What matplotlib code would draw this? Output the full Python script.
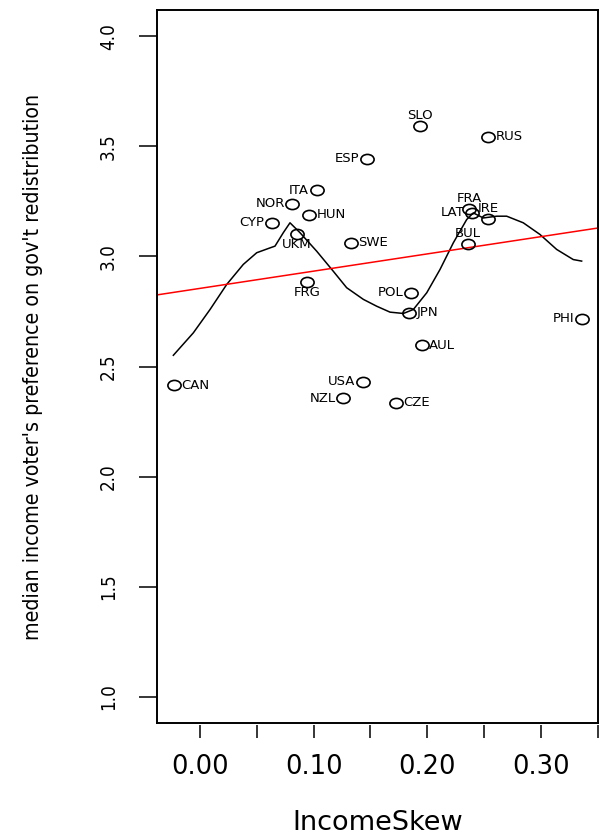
import numpy as np
import matplotlib
matplotlib.use('Agg')
import matplotlib.pyplot as plt
from matplotlib.path import Path
from matplotlib.transforms import Affine2D

# Country codes with income skew and median voter preference for redistribution
countries = ['CAN', 'SLO', 'RUS', 'ESP', 'ITA', 'NOR', 'HUN', 'CYP', 'UKM', 'SWE',
             'FRA', 'LAT', 'IRE', 'BUL', 'FRG', 'POL', 'JPN', 'PHI', 'AUL', 'USA',
             'NZL', 'CZE']
income_skew = [-0.0229, 0.1937, 0.2538, 0.1467, 0.1027, 0.0813, 0.0960, 0.0631, 0.0851, 0.1329,
               0.2371, 0.2397, 0.2538, 0.2356, 0.0945, 0.1857, 0.1843, 0.3360, 0.1951, 0.1438,
               0.1262, 0.1723]
preference = [2.414, 3.595, 3.544, 3.445, 3.301, 3.239, 3.189, 3.153, 3.100, 3.062,
              3.214, 3.198, 3.171, 3.055, 2.883, 2.835, 2.744, 2.718, 2.597, 2.430,
              2.355, 2.335]
# label side: 1 below, 2 left, 3 above, 4 right
label_pos = [4, 3, 4, 2, 2, 2, 4, 2, 1, 4,
             3, 2, 3, 3, 1, 2, 4, 2, 4, 2,
             2, 4]

# Smoothed fit
smooth_x = [-0.0235, -0.0059, 0.0088, 0.0235, 0.0381, 0.0499, 0.0616, 0.0660, 0.0733, 0.0792,
            0.0880, 0.1027, 0.1173, 0.1291, 0.1438, 0.1555, 0.1673, 0.1790, 0.1878, 0.1996,
            0.2113, 0.2230, 0.2348, 0.2406, 0.2494, 0.2612, 0.2700, 0.2846, 0.2993, 0.3140,
            0.3286, 0.3360]
smooth_y = [2.551, 2.653, 2.759, 2.873, 2.964, 3.017, 3.039, 3.047, 3.108, 3.153,
            3.108, 3.024, 2.933, 2.858, 2.805, 2.774, 2.747, 2.741, 2.759, 2.835,
            2.941, 3.062, 3.168, 3.198, 3.175, 3.183, 3.183, 3.153, 3.100, 3.032,
            2.986, 2.979]

# Linear fit
fit_intercept = 2.855
fit_slope = 0.783

x_ticks = [0.00, 0.05, 0.10, 0.15, 0.20, 0.25, 0.30, 0.35]
x_ticklabels = ['0.00', '', '0.10', '', '0.20', '', '0.30', '']
y_ticks = [1.0, 1.5, 2.0, 2.5, 3.0, 3.5, 4.0]
y_ticklabels = ['1.0', '1.5', '2.0', '2.5', '3.0', '3.5', '4.0']

fig = plt.figure(figsize=(6, 8.36), dpi=100)
ax = fig.add_axes([157 / 600, 1 - 723 / 836, 441 / 600, 713 / 836])

# slightly wide open circles
ellipse = Path.unit_circle().transformed(Affine2D().scale(1.3, 1.0))
ax.plot(income_skew, preference, linestyle='None', marker=ellipse, markersize=9.5,
        markerfacecolor='none', markeredgecolor='k', markeredgewidth=1.2, zorder=3)

offsets = {1: (0, -7.5, 'center', 'center'), 2: (-5.5, 0, 'right', 'center'),
           3: (0, 7.5, 'center', 'center'), 4: (5.5, 0, 'left', 'center')}
for name, xv, yv, p in zip(countries, income_skew, preference, label_pos):
    dx, dy, ha, va = offsets[p]
    ax.annotate(name, (xv, yv), xytext=(dx, dy), textcoords='offset points',
                ha=ha, va=va, fontsize=9.5, family='DejaVu Sans', zorder=4)

ax.plot(smooth_x, smooth_y, color='k', lw=1.1, zorder=2)

x0, x1 = -0.0379, 0.3504
ax.plot([x0, x1], [fit_intercept + fit_slope * x0, fit_intercept + fit_slope * x1],
        color='red', lw=1.1, zorder=2)

ax.set_xlim(x0, x1)
ax.set_ylim(0.88, 4.12)
for s in ax.spines.values():
    s.set_linewidth(1.4)

ax.set_yticks(y_ticks)
ax.set_yticklabels(y_ticklabels, rotation=90, va='center', family='DejaVu Sans',
                   stretch='condensed', fontsize=13.5)
ax.tick_params(axis='y', length=13, width=1.1, pad=15)
ax.tick_params(axis='x', bottom=False, labelbottom=False)

# x axis ticks sit just below the frame
sec = ax.secondary_xaxis(location=-0.003)
sec.spines['bottom'].set_visible(False)
sec.set_xticks(x_ticks)
sec.set_xticklabels(x_ticklabels, family='DejaVu Sans', fontsize=18.5)
sec.tick_params(axis='x', length=9, width=1.1, pad=12)

fig.text(377.5 / 600, 1 - 830 / 836, 'IncomeSkew', ha='center', va='baseline',
         fontsize=19.5, family='DejaVu Sans')
fig.text(33 / 600, 1 - 366.5 / 836, "median income voter's preference on gov't redistribution",
         rotation=90, ha='center', va='center', fontsize=15.3, family='DejaVu Sans',
         stretch='condensed')

fig.savefig('out.png', dpi=100)
